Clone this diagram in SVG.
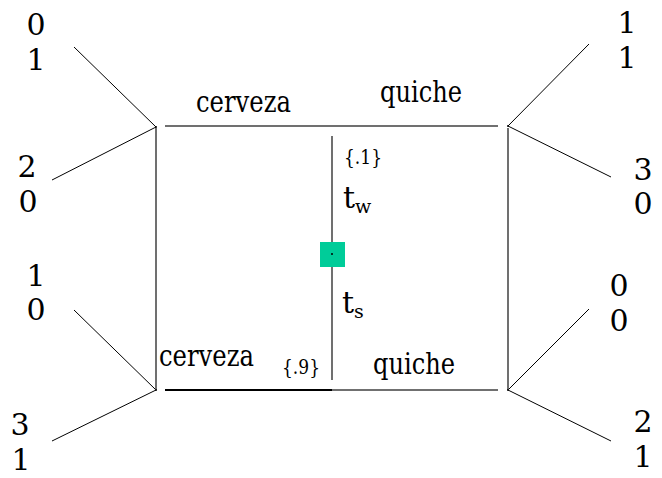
<svg xmlns="http://www.w3.org/2000/svg" width="662" height="478" viewBox="0 0 662 478">
<style>
text{font-family:'DejaVu Serif', 'Liberation Serif', serif;fill:#000}
.pay{font-size:30px;text-anchor:middle}
.lab{font-size:30px}
.pr{font-size:21px}
.sub{font-size:19px}
.br{stroke:#000;stroke-width:1;fill:none}
.bx{stroke:#707070;stroke-width:2;fill:none}
</style>
<rect width="662" height="478" fill="#fff"/>
<g id="connectors">
<line class="br" x1="74" y1="47" x2="156" y2="127"/>
<line class="br" x1="52" y1="180" x2="156" y2="127"/>
<line class="br" x1="74" y1="310" x2="156" y2="390"/>
<line class="br" x1="52" y1="441" x2="156" y2="390"/>
<line class="br" x1="589" y1="44" x2="508" y2="126"/>
<line class="br" x1="611" y1="177" x2="508" y2="126"/>
<line class="br" x1="589" y1="309" x2="508" y2="390"/>
<line class="br" x1="611" y1="441" x2="508" y2="390"/>
<line class="bx" x1="165" y1="126" x2="498" y2="126"/>
<line class="bx" x1="165" y1="390" x2="332" y2="390" style="stroke:#000"/>
<line class="bx" x1="332" y1="390" x2="498" y2="390"/>
<line class="bx" x1="156" y1="128" x2="156" y2="390"/>
<line class="bx" x1="508" y1="128" x2="508" y2="390"/>
<line class="bx" x1="332" y1="136" x2="332" y2="380"/>
</g>
<g id="chance">
<rect x="320" y="242" width="25" height="25" fill="#00CC99"/>
<circle cx="332" cy="254" r="1" fill="#000"/>
<text class="pr" x="344" y="164" textLength="38" lengthAdjust="spacingAndGlyphs">{.1}</text>
<text class="lab" x="343" y="208">t<tspan class="sub" dy="5">w</tspan></text>
<text class="lab" x="342" y="313">t<tspan class="sub" dy="5">s</tspan></text>
<text class="pr" x="282" y="374" textLength="38" lengthAdjust="spacingAndGlyphs">{.9}</text>
</g>
<g id="node-top-left">
<circle cx="156" cy="127" r="1" fill="#000"/>
<text class="lab" x="196" y="112" textLength="95" lengthAdjust="spacingAndGlyphs">cerveza</text>
</g>
<g id="node-bottom-left">
<circle cx="156" cy="390" r="1" fill="#000"/>
<text class="lab" x="159" y="366" textLength="95" lengthAdjust="spacingAndGlyphs">cerveza</text>
</g>
<g id="node-top-right">
<circle cx="508" cy="126" r="1" fill="#000"/>
<text class="lab" x="380" y="102" textLength="82" lengthAdjust="spacingAndGlyphs">quiche</text>
</g>
<g id="node-bottom-right">
<circle cx="508" cy="390" r="1" fill="#000"/>
<text class="lab" x="373" y="374" textLength="82" lengthAdjust="spacingAndGlyphs">quiche</text>
</g>
<g id="payoffs">
<text class="pay" x="36" y="35">0</text>
<text class="pay" x="36" y="70">1</text>
<text class="pay" x="27" y="177">2</text>
<text class="pay" x="28" y="212">0</text>
<text class="pay" x="36" y="286">1</text>
<text class="pay" x="36" y="320">0</text>
<text class="pay" x="20" y="435">3</text>
<text class="pay" x="21" y="470">1</text>
<text class="pay" x="627" y="33">1</text>
<text class="pay" x="627" y="68">1</text>
<text class="pay" x="643" y="180">3</text>
<text class="pay" x="643" y="214">0</text>
<text class="pay" x="619" y="296">0</text>
<text class="pay" x="619" y="331">0</text>
<text class="pay" x="643" y="432">2</text>
<text class="pay" x="643" y="467">1</text>
</g>
</svg>
